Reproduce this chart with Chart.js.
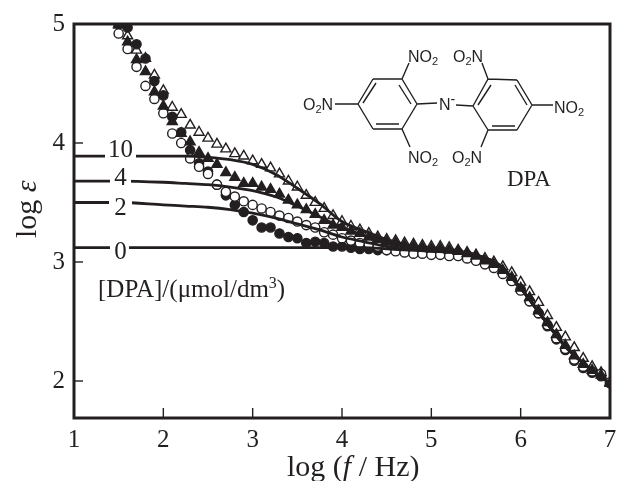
<!DOCTYPE html>
<html>
<head>
<meta charset="utf-8">
<style>
html, body { margin: 0; padding: 0; background: #fff; }
#wrap { position: relative; width: 618px; height: 481px; }
</style>
<script src="https://cdn.jsdelivr.net/npm/chart.js@4"></script>
</head>
<body>
<div id="wrap"><canvas id="chart" width="618" height="481"></canvas></div>
<script>
const logF = [1.5, 1.6, 1.7, 1.8, 1.9, 2.0, 2.1, 2.2, 2.3, 2.4, 2.5, 2.6, 2.7, 2.8, 2.9, 3.0, 3.1, 3.2, 3.3, 3.4, 3.5, 3.6, 3.7, 3.8, 3.9, 4.0, 4.1, 4.2, 4.3, 4.4, 4.5, 4.6, 4.7, 4.8, 4.9, 5.0, 5.1, 5.2, 5.3, 5.4, 5.5, 5.6, 5.7, 5.8, 5.9, 6.0, 6.1, 6.2, 6.3, 6.4, 6.5, 6.6, 6.7, 6.8, 6.9, 7.0];

const dpa0 = [5.0, 4.97, 4.83, 4.71, 4.52, 4.40, 4.22, 4.09, 3.94, 3.83, 3.76, 3.65, 3.56, 3.48, 3.42, 3.35, 3.29, 3.29, 3.24, 3.21, 3.20, 3.16, 3.17, 3.16, 3.13, 3.13, 3.12, 3.11, 3.11, 3.10, 3.10, 3.10, 3.09, 3.09, 3.09, 3.09, 3.09, 3.08, 3.08, 3.06, 3.03, 3.00, 2.96, 2.91, 2.85, 2.77, 2.67, 2.57, 2.46, 2.35, 2.26, 2.17, 2.11, 2.07, 2.04, 1.98];
const dpa2 = [4.92, 4.79, 4.64, 4.48, 4.37, 4.25, 4.08, 4.00, 3.87, 3.80, 3.74, 3.65, 3.59, 3.55, 3.51, 3.48, 3.45, 3.42, 3.39, 3.37, 3.34, 3.31, 3.29, 3.25, 3.23, 3.20, 3.18, 3.16, 3.15, 3.13, 3.10, 3.09, 3.08, 3.07, 3.07, 3.06, 3.06, 3.05, 3.05, 3.03, 3.01, 2.98, 2.95, 2.90, 2.84, 2.76, 2.67, 2.57, 2.47, 2.36, 2.27, 2.18, 2.12, 2.08, 2.06, 1.99];
const dpa4 = [4.99, 4.85, 4.70, 4.60, 4.43, 4.31, 4.18, 4.08, 4.01, 3.92, 3.87, 3.82, 3.75, 3.71, 3.66, 3.66, 3.63, 3.61, 3.57, 3.52, 3.48, 3.44, 3.40, 3.35, 3.31, 3.29, 3.26, 3.24, 3.21, 3.19, 3.17, 3.16, 3.14, 3.13, 3.12, 3.11, 3.11, 3.10, 3.09, 3.07, 3.05, 3.01, 2.98, 2.93, 2.87, 2.78, 2.70, 2.59, 2.49, 2.39, 2.30, 2.21, 2.14, 2.09, 2.05, 1.98];
const dpa10 = [5.0, 4.9, 4.78, 4.71, 4.57, 4.44, 4.30, 4.24, 4.15, 4.09, 4.04, 3.99, 3.95, 3.91, 3.89, 3.85, 3.82, 3.79, 3.74, 3.68, 3.63, 3.56, 3.50, 3.45, 3.39, 3.34, 3.30, 3.27, 3.24, 3.21, 3.19, 3.18, 3.16, 3.15, 3.14, 3.13, 3.13, 3.12, 3.10, 3.08, 3.06, 3.03, 3.00, 2.96, 2.91, 2.83, 2.75, 2.66, 2.55, 2.45, 2.37, 2.28, 2.19, 2.12, 2.07, 1.99];

const fitF = [1.0, 1.5, 2.0, 2.25, 2.5, 2.75, 3.0, 3.25, 3.5, 3.75, 4.0, 4.25, 4.5, 4.75, 5.0, 5.25, 5.5, 5.75, 6.0, 6.25, 6.5, 6.75, 7.0];
const fit0 = [3.12, 3.12, 3.12, 3.12, 3.12, 3.12, 3.12, 3.12, 3.12, 3.12, 3.12, 3.12, 3.11, 3.10, 3.09, 3.08, 3.05, 2.97, 2.78, 2.53, 2.29, 2.12, 1.98];
const fit2 = [3.50, 3.50, 3.48, 3.47, 3.46, 3.44, 3.41, 3.37, 3.32, 3.27, 3.21, 3.17, 3.13, 3.11, 3.10, 3.09, 3.06, 2.98, 2.78, 2.53, 2.29, 2.12, 1.98];
const fit4 = [3.68, 3.68, 3.67, 3.66, 3.65, 3.63, 3.60, 3.55, 3.47, 3.38, 3.29, 3.22, 3.17, 3.13, 3.11, 3.09, 3.06, 2.98, 2.78, 2.53, 2.29, 2.12, 1.98];
const fit10 = [3.89, 3.89, 3.89, 3.89, 3.88, 3.86, 3.82, 3.74, 3.62, 3.49, 3.34, 3.26, 3.19, 3.14, 3.12, 3.10, 3.06, 2.98, 2.78, 2.53, 2.29, 2.12, 1.98];

const xTicks = [1, 2, 3, 4, 5, 6, 7];
const yTicks = [2, 3, 4, 5];
const fitLabels = [['10', 3.89], ['4', 3.68], ['2', 3.50], ['0', 3.12]];

const ink = '#231f20';
const serif = '"Liberation Serif", serif';
const sans = '"Liberation Sans", sans-serif';

function toPoints(xs, ys) {
  return xs.map((x, i) => ({ x: x, y: ys[i] }));
}

function fitLine(ys) {
  return { type: 'line', data: toPoints(fitF, ys), borderColor: ink, borderWidth: 2.8, pointRadius: 0, cubicInterpolationMode: 'monotone', clip: 0 };
}

function markers(ys, style, fill, radius) {
  return { type: 'line', data: toPoints(logF, ys), showLine: false, pointStyle: style, pointRadius: radius, pointBackgroundColor: fill, pointBorderColor: ink, pointBorderWidth: 1.4, clip: 0 };
}

// text made of pieces, a piece is [string, font, baseline shift]
function drawRuns(ctx, x, y, runs) {
  ctx.textAlign = 'left';
  ctx.textBaseline = 'alphabetic';
  runs.forEach(r => {
    ctx.font = r[1];
    ctx.fillText(r[0], x, y + (r[2] || 0));
    x += ctx.measureText(r[0]).width;
  });
}

function seg(ctx, list) {
  ctx.beginPath();
  list.forEach(s => { ctx.moveTo(s[0], s[1]); ctx.lineTo(s[2], s[3]); });
  ctx.stroke();
}

function drawMolecule(ctx) {
  ctx.strokeStyle = ink;
  ctx.lineWidth = 1.4;
  seg(ctx, [
    [358, 104, 373, 79], [373, 79, 402, 79], [402, 79, 417, 104], [417, 104, 402, 129], [402, 129, 373, 129], [373, 129, 358, 104],
    [363, 103, 376, 83], [399, 85, 411, 104], [376, 124, 399, 124],
    [335, 104, 358, 104], [402, 79, 409, 63], [402, 129, 410, 147], [417, 104, 437, 103],
    [473, 106, 488, 79], [488, 79, 517, 80], [517, 80, 532, 105], [532, 105, 517, 130], [517, 130, 488, 130], [488, 130, 473, 106],
    [478, 105, 491, 85], [515, 85, 527, 105], [492, 126, 515, 126],
    [488, 79, 482, 63], [488, 130, 481, 147], [532, 105, 553, 105], [456, 105, 473, 106]
  ]);
  ctx.fillStyle = ink;
  const big = '16px ' + sans;
  const small = '11px ' + sans;
  drawRuns(ctx, 408, 62, [['NO', big], ['2', small, 3]]);
  drawRuns(ctx, 453, 62, [['O', big], ['2', small, 3], ['N', big]]);
  drawRuns(ctx, 303, 110, [['O', big], ['2', small, 3], ['N', big]]);
  drawRuns(ctx, 439, 110, [['N', big], ['-', '14px ' + sans, -6]]);
  drawRuns(ctx, 554, 113, [['NO', big], ['2', small, 3]]);
  drawRuns(ctx, 408, 163, [['NO', big], ['2', small, 3]]);
  drawRuns(ctx, 452, 163, [['O', big], ['2', small, 3], ['N', big]]);
  drawRuns(ctx, 507, 186, [['DPA', '23px ' + serif]]);
}

const decorPlugin = {
  id: 'decor',
  afterDatasetsDraw(chart) {
    const ctx = chart.ctx;
    const area = chart.chartArea;
    const xs = chart.scales.x;
    const ys = chart.scales.y;
    ctx.save();

    // inward ticks
    ctx.strokeStyle = ink;
    ctx.lineWidth = 1.4;
    xTicks.slice(1, -1).forEach(v => {
      const p = xs.getPixelForValue(v);
      seg(ctx, [[p, area.bottom, p, area.bottom - 10]]);
    });
    yTicks.slice(0, -1).forEach(v => {
      const p = ys.getPixelForValue(v);
      seg(ctx, [[area.left, p, area.left + 9, p]]);
    });

    // frame
    ctx.lineWidth = 3;
    ctx.strokeRect(area.left, area.top, area.right - area.left, area.bottom - area.top);

    // concentration labels sitting in gaps of the fit lines
    ctx.fillStyle = '#fff';
    const gaps = { '10': [105, 136], '4': [110, 131], '2': [109, 132], '0': [110, 129] };
    fitLabels.forEach(l => {
      const p = ys.getPixelForValue(l[1]);
      ctx.fillRect(gaps[l[0]][0], p - 5, gaps[l[0]][1] - gaps[l[0]][0], 10);
    });
    ctx.fillStyle = ink;
    ctx.font = '25px ' + serif;
    ctx.textAlign = 'center';
    ctx.textBaseline = 'alphabetic';
    const drops = { '10': 1, '4': 4, '2': 13, '0': 11 };
    fitLabels.forEach(l => {
      ctx.fillText(l[0], 120.5, ys.getPixelForValue(l[1]) + drops[l[0]]);
    });

    drawRuns(ctx, 98, 297, [['[DPA]/(μmol/dm', '25px ' + serif], ['3', '16px ' + serif, -9], [')', '25px ' + serif]]);
    drawMolecule(ctx);

    // axis titles
    const reg = '30px ' + serif;
    const ital = 'italic 30px ' + serif;
    drawRuns(ctx, 287, 476, [['log (', reg], ['f', ital], [' / Hz)', reg]]);
    ctx.translate(36, 238);
    ctx.rotate(-Math.PI / 2);
    drawRuns(ctx, 0, 0, [['log ', reg], ['ε', ital]]);
    ctx.restore();
  }
};

new Chart(document.getElementById('chart').getContext('2d'), {
  type: 'line',
  data: {
    datasets: [
      fitLine(fit10), fitLine(fit4), fitLine(fit2), fitLine(fit0),
      markers(dpa4, 'triangle', ink, 5.8),
      markers(dpa2, 'circle', '#fff', 4.6),
      markers(dpa0, 'circle', ink, 4.6),
      markers(dpa10, 'triangle', '#fff', 5.8)
    ]
  },
  options: {
    responsive: false,
    animation: false,
    layout: { padding: { top: 24, right: 8, left: 0, bottom: 0 }, autoPadding: false },
    plugins: { legend: { display: false }, tooltip: { enabled: false } },
    scales: {
      x: {
        type: 'linear',
        min: 1,
        max: 7,
        afterBuildTicks(s) { s.ticks = xTicks.map(v => ({ value: v })); },
        afterFit(s) { s.height = 63; s.paddingLeft = 0; s.paddingRight = 0; },
        grid: { display: false, drawTicks: false },
        border: { display: false },
        ticks: { color: ink, font: { family: 'Liberation Serif', size: 25 }, maxRotation: 0, padding: 7 }
      },
      y: {
        type: 'linear',
        min: 1.689,
        max: 5,
        afterBuildTicks(s) { s.ticks = yTicks.map(v => ({ value: v })); },
        afterFit(s) { s.width = 74; s.paddingTop = 0; s.paddingBottom = 0; },
        grid: { display: false, drawTicks: false },
        border: { display: false },
        ticks: { color: ink, font: { family: 'Liberation Serif', size: 25 }, padding: 9 }
      }
    }
  },
  plugins: [decorPlugin]
});
</script>
</body>
</html>
